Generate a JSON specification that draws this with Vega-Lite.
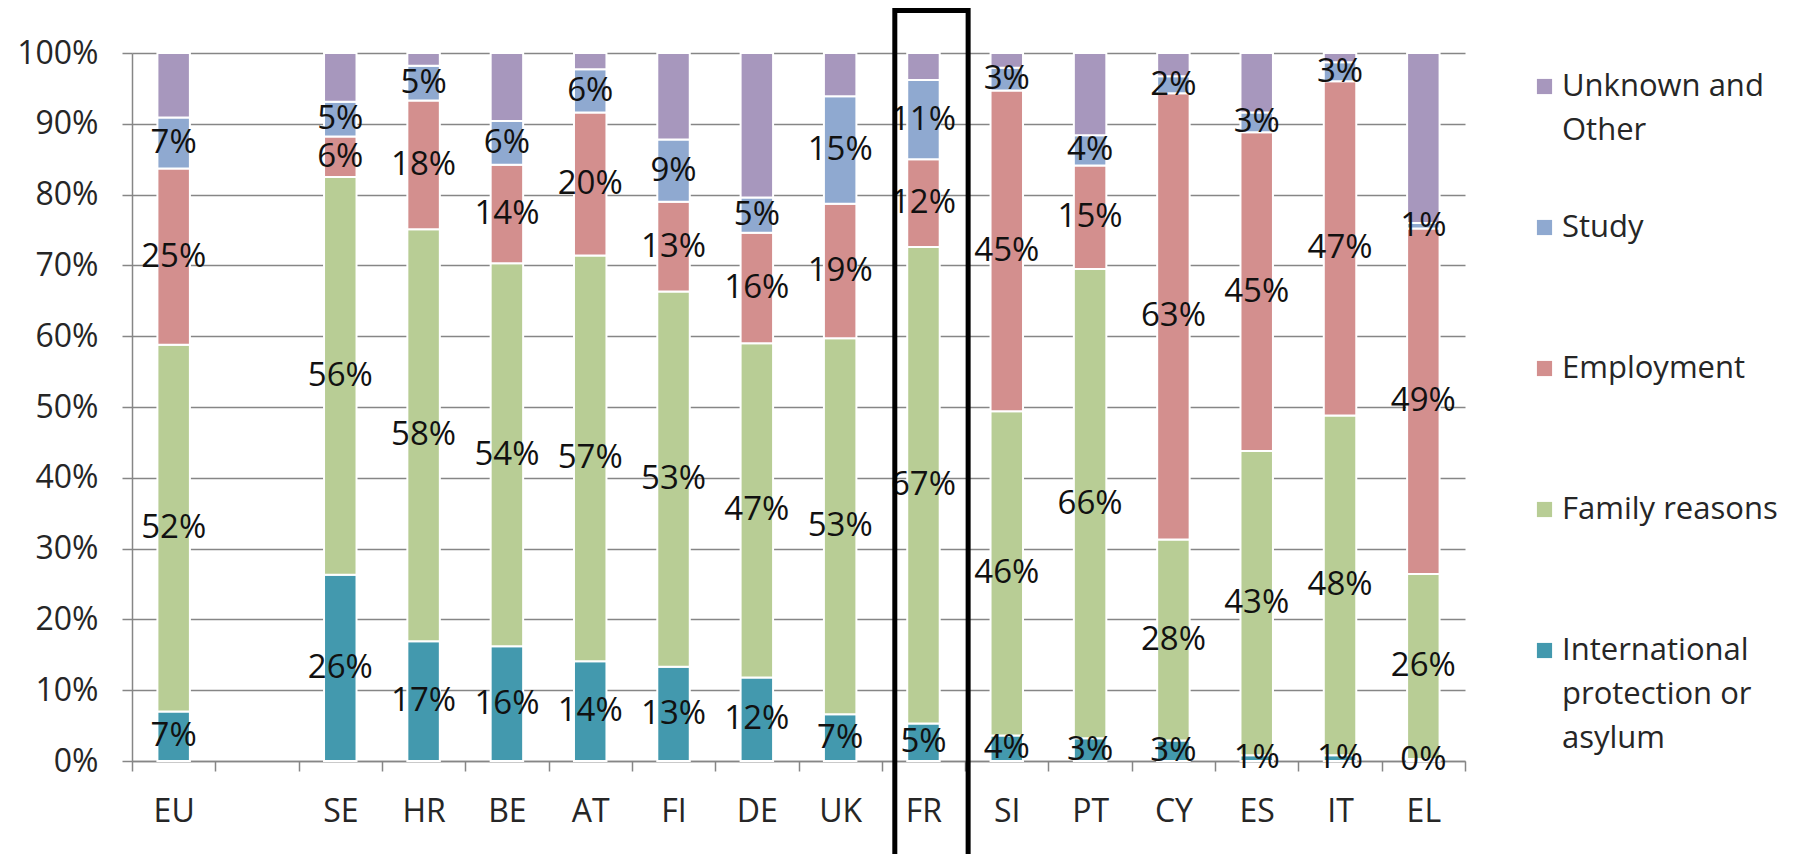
{
  "$schema": "https://vega.github.io/schema/vega-lite/v6.json",
  "autosize": "none",
  "padding": {"left": 132, "top": 53, "right": 339, "bottom": 93},
  "width": 1333,
  "height": 708,
  "background": "white",
  "config": {
    "view": {"stroke": null},
    "font": "Open Sans",
    "style": {"guide-label": {"lineHeight": 44}},
    "axis": {
      "labelFont": "Open Sans",
      "labelFontSize": 32,
      "labelColor": "#262626",
      "domainColor": "#868686",
      "domainWidth": 1.5,
      "tickColor": "#868686",
      "tickWidth": 1.5,
      "tickSize": 10,
      "gridColor": "#868686",
      "gridWidth": 1.5,
      "title": null
    },
    "legend": {
      "labelFont": "Open Sans",
      "labelFontSize": 31,
      "labelColor": "#262626",
      "symbolType": "square",
      "symbolSize": 230,
      "symbolStrokeWidth": 0,
      "labelOffset": 2,
      "labelLimit": 400,
      "gridAlign": "all",
      "rowPadding": 21
    }
  },
  "datasets": {
    "shares": [
      {"c": "EU", "r": "International protection or asylum", "o": 1, "v": 0.070},
      {"c": "EU", "r": "Family reasons", "o": 2, "v": 0.518},
      {"c": "EU", "r": "Employment", "o": 3, "v": 0.249},
      {"c": "EU", "r": "Study", "o": 4, "v": 0.072},
      {"c": "EU", "r": "Unknown and Other", "o": 5, "v": 0.091},
      {"c": "SE", "r": "International protection or asylum", "o": 1, "v": 0.263},
      {"c": "SE", "r": "Family reasons", "o": 2, "v": 0.562},
      {"c": "SE", "r": "Employment", "o": 3, "v": 0.057},
      {"c": "SE", "r": "Study", "o": 4, "v": 0.049},
      {"c": "SE", "r": "Unknown and Other", "o": 5, "v": 0.069},
      {"c": "HR", "r": "International protection or asylum", "o": 1, "v": 0.169},
      {"c": "HR", "r": "Family reasons", "o": 2, "v": 0.582},
      {"c": "HR", "r": "Employment", "o": 3, "v": 0.182},
      {"c": "HR", "r": "Study", "o": 4, "v": 0.049},
      {"c": "HR", "r": "Unknown and Other", "o": 5, "v": 0.018},
      {"c": "BE", "r": "International protection or asylum", "o": 1, "v": 0.162},
      {"c": "BE", "r": "Family reasons", "o": 2, "v": 0.541},
      {"c": "BE", "r": "Employment", "o": 3, "v": 0.139},
      {"c": "BE", "r": "Study", "o": 4, "v": 0.062},
      {"c": "BE", "r": "Unknown and Other", "o": 5, "v": 0.096},
      {"c": "AT", "r": "International protection or asylum", "o": 1, "v": 0.141},
      {"c": "AT", "r": "Family reasons", "o": 2, "v": 0.573},
      {"c": "AT", "r": "Employment", "o": 3, "v": 0.202},
      {"c": "AT", "r": "Study", "o": 4, "v": 0.061},
      {"c": "AT", "r": "Unknown and Other", "o": 5, "v": 0.023},
      {"c": "FI", "r": "International protection or asylum", "o": 1, "v": 0.133},
      {"c": "FI", "r": "Family reasons", "o": 2, "v": 0.530},
      {"c": "FI", "r": "Employment", "o": 3, "v": 0.127},
      {"c": "FI", "r": "Study", "o": 4, "v": 0.088},
      {"c": "FI", "r": "Unknown and Other", "o": 5, "v": 0.122},
      {"c": "DE", "r": "International protection or asylum", "o": 1, "v": 0.118},
      {"c": "DE", "r": "Family reasons", "o": 2, "v": 0.472},
      {"c": "DE", "r": "Employment", "o": 3, "v": 0.156},
      {"c": "DE", "r": "Study", "o": 4, "v": 0.050},
      {"c": "DE", "r": "Unknown and Other", "o": 5, "v": 0.204},
      {"c": "UK", "r": "International protection or asylum", "o": 1, "v": 0.066},
      {"c": "UK", "r": "Family reasons", "o": 2, "v": 0.531},
      {"c": "UK", "r": "Employment", "o": 3, "v": 0.190},
      {"c": "UK", "r": "Study", "o": 4, "v": 0.152},
      {"c": "UK", "r": "Unknown and Other", "o": 5, "v": 0.061},
      {"c": "FR", "r": "International protection or asylum", "o": 1, "v": 0.053},
      {"c": "FR", "r": "Family reasons", "o": 2, "v": 0.673},
      {"c": "FR", "r": "Employment", "o": 3, "v": 0.124},
      {"c": "FR", "r": "Study", "o": 4, "v": 0.112},
      {"c": "FR", "r": "Unknown and Other", "o": 5, "v": 0.038},
      {"c": "SI", "r": "International protection or asylum", "o": 1, "v": 0.036},
      {"c": "SI", "r": "Family reasons", "o": 2, "v": 0.458},
      {"c": "SI", "r": "Employment", "o": 3, "v": 0.453},
      {"c": "SI", "r": "Study", "o": 4, "v": 0.032},
      {"c": "SI", "r": "Unknown and Other", "o": 5, "v": 0.021},
      {"c": "PT", "r": "International protection or asylum", "o": 1, "v": 0.032},
      {"c": "PT", "r": "Family reasons", "o": 2, "v": 0.663},
      {"c": "PT", "r": "Employment", "o": 3, "v": 0.146},
      {"c": "PT", "r": "Study", "o": 4, "v": 0.043},
      {"c": "PT", "r": "Unknown and Other", "o": 5, "v": 0.116},
      {"c": "CY", "r": "International protection or asylum", "o": 1, "v": 0.029},
      {"c": "CY", "r": "Family reasons", "o": 2, "v": 0.284},
      {"c": "CY", "r": "Employment", "o": 3, "v": 0.630},
      {"c": "CY", "r": "Study", "o": 4, "v": 0.024},
      {"c": "CY", "r": "Unknown and Other", "o": 5, "v": 0.033},
      {"c": "ES", "r": "International protection or asylum", "o": 1, "v": 0.008},
      {"c": "ES", "r": "Family reasons", "o": 2, "v": 0.430},
      {"c": "ES", "r": "Employment", "o": 3, "v": 0.450},
      {"c": "ES", "r": "Study", "o": 4, "v": 0.028},
      {"c": "ES", "r": "Unknown and Other", "o": 5, "v": 0.084},
      {"c": "IT", "r": "International protection or asylum", "o": 1, "v": 0.008},
      {"c": "IT", "r": "Family reasons", "o": 2, "v": 0.480},
      {"c": "IT", "r": "Employment", "o": 3, "v": 0.472},
      {"c": "IT", "r": "Study", "o": 4, "v": 0.027},
      {"c": "IT", "r": "Unknown and Other", "o": 5, "v": 0.013},
      {"c": "EL", "r": "International protection or asylum", "o": 1, "v": 0.003},
      {"c": "EL", "r": "Family reasons", "o": 2, "v": 0.261},
      {"c": "EL", "r": "Employment", "o": 3, "v": 0.488},
      {"c": "EL", "r": "Study", "o": 4, "v": 0.008},
      {"c": "EL", "r": "Unknown and Other", "o": 5, "v": 0.240}
    ],
    "box": [{"c": "FR"}]
  },
  "encoding": {
    "x": {
      "field": "c",
      "type": "nominal",
      "scale": {
        "domain": ["EU", " ", "SE", "HR", "BE", "AT", "FI", "DE", "UK", "FR", "SI", "PT", "CY", "ES", "IT", "EL"],
        "paddingInner": 0,
        "paddingOuter": 0
      },
      "axis": {
        "labelAngle": 0,
        "tickBand": "extent",
        "labelPadding": 25,
        "grid": false
      }
    }
  },
  "layer": [
    {
      "data": {"name": "shares"},
      "transform": [
        {"stack": "v", "groupby": ["c"], "sort": [{"field": "o", "order": "ascending"}], "as": ["v0", "v1"]}
      ],
      "mark": {"type": "bar", "width": {"band": 0.39}, "stroke": "white", "strokeWidth": 2},
      "encoding": {
        "y": {
          "field": "v0",
          "type": "quantitative",
          "scale": {"domain": [0, 1], "nice": false},
          "axis": {
            "format": ".0%",
            "values": [0, 0.1, 0.2, 0.3, 0.4, 0.5, 0.6, 0.7, 0.8, 0.9, 1],
            "labelPadding": 24,
            "grid": true
          }
        },
        "y2": {"field": "v1"},
        "color": {
          "field": "r",
          "type": "nominal",
          "scale": {
            "domain": ["Unknown and Other", "Study", "Employment", "Family reasons", "International protection or asylum"],
            "range": ["#A797BD", "#8FA9D0", "#D38F8E", "#B8CD95", "#4399AE"]
          },
          "legend": {
            "title": null,
            "orient": "right",
            "offset": 46,
            "padding": 18,
            "labelExpr": "datum.label == 'Unknown and Other' ? ['Unknown and', 'Other'] : datum.label == 'International protection or asylum' ? ['International', 'protection or', 'asylum'] : datum.label",
            "encode": {"labels": {"enter": {"lineHeight": {"value": 44}}, "update": {"lineHeight": {"value": 44}}}}
          }
        }
      }
    },
    {
      "data": {"name": "shares"},
      "transform": [
        {"stack": "v", "groupby": ["c"], "sort": [{"field": "o", "order": "ascending"}], "as": ["v0", "v1"]},
        {"filter": "datum.r != 'Unknown and Other'"},
        {"calculate": "(datum.v0 + datum.v1) / 2", "as": "mid"}
      ],
      "mark": {"type": "text", "font": "Open Sans", "fontSize": 33, "color": "#111111", "baseline": "middle", "align": "center"},
      "encoding": {
        "y": {"field": "mid", "type": "quantitative"},
        "text": {"field": "v", "type": "quantitative", "format": ".0%"}
      }
    },
    {
      "data": {"name": "box"},
      "mark": {"type": "bar", "width": {"band": 0.88}, "xOffset": 8, "filled": false, "stroke": "black", "strokeWidth": 5, "fill": null},
      "encoding": {
        "y": {"datum": 1.06, "type": "quantitative"},
        "y2": {"datum": -0.135}
      }
    }
  ]
}
